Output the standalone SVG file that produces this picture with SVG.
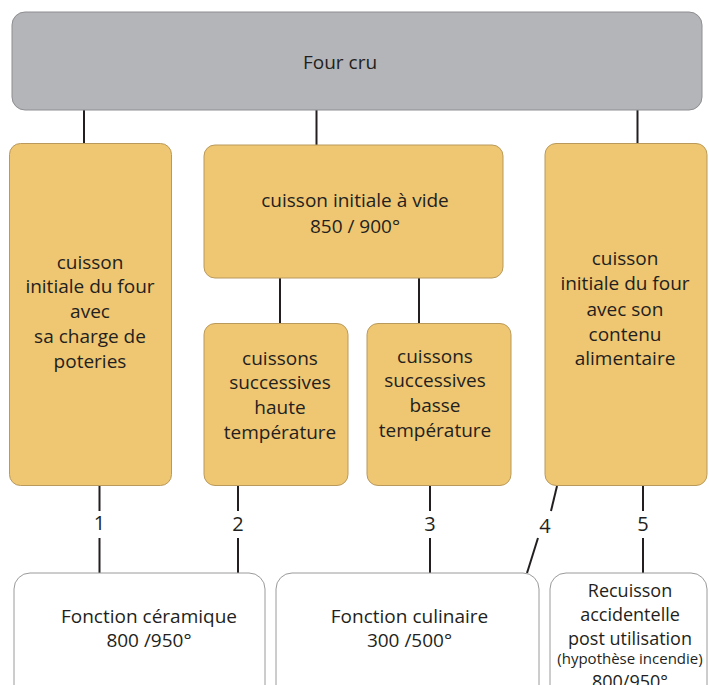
<svg xmlns="http://www.w3.org/2000/svg" width="709" height="685" viewBox="0 0 709 685">
<style>
.t{font-family:"Open Sans","Noto Sans",sans-serif;font-size:19px;fill:#231f20;text-anchor:middle}
.n{font-size:20px}
.r{font-size:18px}
.s{font-size:15px}
.or{fill:#efc671;stroke:#b99a5c;stroke-width:1}
.wh{fill:#ffffff;stroke:#9a9a9a;stroke-width:1}
.ln{stroke:#231f20;stroke-width:2;fill:none}
</style>
<rect width="709" height="685" fill="#ffffff"/>
<g id="connectors">
<line class="ln" x1="84" y1="110" x2="84" y2="144"/>
<line class="ln" x1="316.5" y1="110" x2="316.5" y2="145"/>
<line class="ln" x1="637.5" y1="110" x2="637.5" y2="144"/>
<line class="ln" x1="280" y1="277" x2="280" y2="323"/>
<line class="ln" x1="419" y1="277" x2="419" y2="323"/>
<line class="ln" x1="99.5" y1="486" x2="99.5" y2="511"/>
<line class="ln" x1="99.5" y1="538" x2="99.5" y2="573"/>
<line class="ln" x1="238" y1="486" x2="238" y2="511"/>
<line class="ln" x1="238" y1="538" x2="238" y2="573"/>
<line class="ln" x1="430" y1="486" x2="430" y2="511"/>
<line class="ln" x1="430" y1="538" x2="430" y2="573"/>
<line class="ln" x1="557" y1="486" x2="551" y2="511"/>
<line class="ln" x1="538" y1="538" x2="527" y2="573"/>
<line class="ln" x1="643" y1="486" x2="643" y2="511"/>
<line class="ln" x1="643" y1="538" x2="643" y2="573"/>
<text class="t n" x="99.5" y="530">1</text>
<text class="t n" x="238" y="531">2</text>
<text class="t n" x="430" y="531">3</text>
<text class="t n" x="545" y="533">4</text>
<text class="t n" x="643" y="531">5</text>
</g>
<g id="four-cru">
<rect x="12" y="12" width="690" height="98" rx="13" fill="#b4b5b9" stroke="#8e8e92" stroke-width="1"/>
<text class="t" x="340" y="69">Four cru</text>
</g>
<g id="cuisson-poteries">
<rect class="or" x="9.5" y="143.5" width="162" height="342" rx="11"/>
<text class="t" x="90" y="268.5">cuisson</text>
<text class="t" x="90" y="293">initiale du four</text>
<text class="t" x="90" y="318">avec</text>
<text class="t" x="90" y="343">sa charge de</text>
<text class="t" x="90" y="367.5">poteries</text>
</g>
<g id="cuisson-vide">
<rect class="or" x="204" y="145" width="299" height="133" rx="11"/>
<text class="t" x="355" y="207">cuisson initiale à vide</text>
<text class="t" x="355" y="233">850 / 900°</text>
</g>
<g id="haute-temp">
<rect class="or" x="204" y="323.5" width="144" height="162" rx="11"/>
<text class="t" x="280" y="365">cuissons</text>
<text class="t" x="280" y="389">successives</text>
<text class="t" x="280" y="414">haute</text>
<text class="t" x="280" y="439">température</text>
</g>
<g id="basse-temp">
<rect class="or" x="367" y="323.5" width="144" height="162" rx="11"/>
<text class="t" x="435" y="362.5">cuissons</text>
<text class="t" x="435" y="387">successives</text>
<text class="t" x="435" y="412">basse</text>
<text class="t" x="435" y="437">température</text>
</g>
<g id="cuisson-alimentaire">
<rect class="or" x="545" y="143.5" width="162" height="342" rx="11"/>
<text class="t" x="625" y="265">cuisson</text>
<text class="t" x="625" y="290">initiale du four</text>
<text class="t" x="625" y="316">avec son</text>
<text class="t" x="625" y="341">contenu</text>
<text class="t" x="625" y="365">alimentaire</text>
</g>
<g id="fonction-ceramique">
<rect class="wh" x="14" y="573" width="251" height="130" rx="16"/>
<text class="t" x="149" y="623">Fonction céramique</text>
<text class="t" x="149" y="647">800 /950°</text>
</g>
<g id="fonction-culinaire">
<rect class="wh" x="276" y="573" width="263" height="130" rx="16"/>
<text class="t" x="409.5" y="623">Fonction culinaire</text>
<text class="t" x="409.5" y="647">300 /500°</text>
</g>
<g id="recuisson">
<rect class="wh" x="550" y="573" width="157" height="130" rx="16"/>
<text class="t r" x="630" y="597">Recuisson</text>
<text class="t r" x="630" y="621">accidentelle</text>
<text class="t r" x="630" y="645">post utilisation</text>
<text class="t s" x="630" y="664">(hypothèse incendie)</text>
<text class="t r" x="630" y="688">800/950°</text>
</g>
</svg>
